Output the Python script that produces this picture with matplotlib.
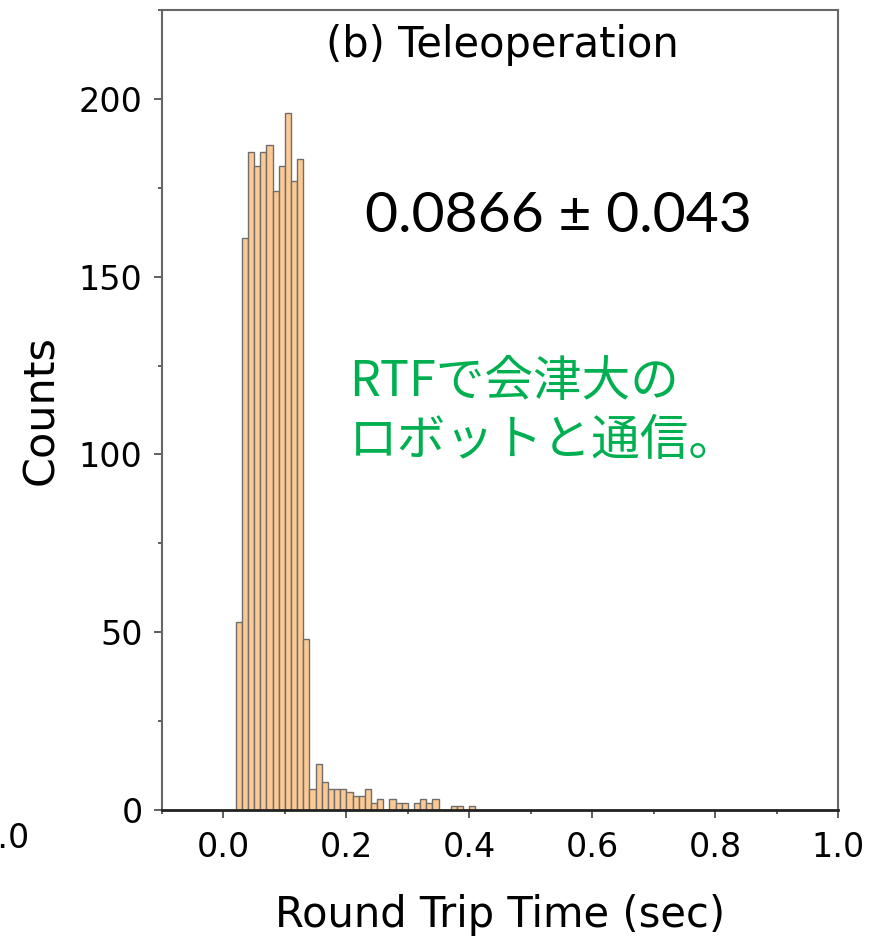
import numpy as np
import matplotlib
matplotlib.use("Agg")
import matplotlib.pyplot as plt
from matplotlib.ticker import MultipleLocator

# histogram bins (left edges, width 0.01 s) and counts
bin_left = np.round(np.arange(0.02, 0.41, 0.01), 2)
counts = [53, 161, 185, 181, 185, 187, 174, 181, 196, 177, 183, 48,
          6, 13, 8, 6, 6, 6, 5, 4, 4, 6, 2, 3, 0,
          3, 2, 2, 0, 2, 3, 2, 3, 0, 0, 1, 1, 0, 1]
bin_width = 0.01

title = "(b) Teleoperation"
stats_txt = "0.0866 ± 0.043"
note_txt = "RTFで会津大の\nロボットと通信。"
x_ticks = [0.0, 0.2, 0.4, 0.6, 0.8, 1.0]
y_ticks = [0, 50, 100, 150, 200]

fig = plt.figure(figsize=(8.84, 9.38), dpi=100)
ax = fig.add_axes([162/884, 1-810/938, 676/884, 800/938])

ax.bar(bin_left, counts, width=bin_width, align='edge',
       color='#fcc992', edgecolor='#6e6e6e', linewidth=1.0)

ax.set_xlim(-0.1, 1.0)
ax.set_ylim(0, 225)
ax.set_xticks(x_ticks)
ax.set_yticks(y_ticks)
ax.xaxis.set_minor_locator(MultipleLocator(0.1))
ax.yaxis.set_minor_locator(MultipleLocator(25))
ax.tick_params(axis='both', which='major', labelsize=24, length=6,
               width=1.2, color='#444444')
ax.tick_params(axis='both', which='minor', length=3, width=1.2,
               color='#444444')
ax.tick_params(axis='x', pad=9)
ax.tick_params(axis='y', pad=8)

for s in ['left', 'right', 'top']:
    ax.spines[s].set_color('#666666')
    ax.spines[s].set_linewidth(1.5)
ax.spines['bottom'].set_color('#222222')
ax.spines['bottom'].set_linewidth(2)

ax.set_ylabel("Counts", fontsize=31, labelpad=12)
ax.set_xlabel("Round Trip Time (sec)", fontsize=30, labelpad=22)

ax.text(0.503, 0.956, title, transform=ax.transAxes, fontsize=30,
        ha='center', va='center')
ax.text(0.231, 167, stats_txt, fontsize=41, family='Lato',
        ha='left', va='center', color='black')
ax.text(0.205, 112, note_txt, fontsize=35, color='#00b050',
        family=['Noto Sans CJK JP', 'DejaVu Sans'],
        ha='left', va='center', linespacing=1.25)

# leftover label of the neighbouring panel, cut by the crop
fig.text(30/884, 1-838/938, "1.0", fontsize=24, ha='right', va='center')

fig.savefig("out.png", dpi=100)
